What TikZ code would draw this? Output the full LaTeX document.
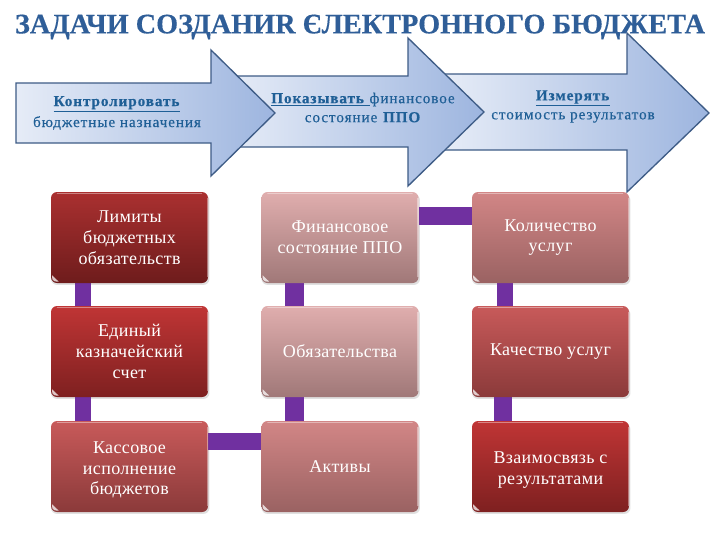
\documentclass[tikz,border=0pt]{standalone}
\usepackage{fontspec}
\usetikzlibrary{backgrounds}
\setmainfont{Liberation Serif}
\newfontfamily\arrowfont[LetterSpace=6,FakeBold=0.35]{Liberation Serif}
\newfontfamily\boxfont[LetterSpace=2]{Liberation Serif}
\definecolor{titleblue}{HTML}{2F5E98}
\definecolor{arrowtext}{HTML}{1F5F96}
\definecolor{arrowedge}{HTML}{3E5C86}
\definecolor{arrowlight}{HTML}{E6ECF7}
\definecolor{arrowdark}{HTML}{9DB5DF}
\definecolor{linkpurple}{HTML}{7030A0}
\definecolor{ta}{HTML}{AA3030}\definecolor{ba}{HTML}{6E1C1C}
\definecolor{tb}{HTML}{C03535}\definecolor{bb}{HTML}{7E2020}
\definecolor{tc}{HTML}{C85A5A}\definecolor{bc}{HTML}{8B3A3A}
\definecolor{td}{HTML}{E0AEAE}\definecolor{bd}{HTML}{A07878}
\definecolor{te}{HTML}{D28686}\definecolor{be}{HTML}{9A6262}
\tikzset{
  x=0.75pt,y=-0.75pt,
  arrowshape/.style={draw=arrowedge,line width=1pt,left color=arrowlight,right color=arrowdark,line join=miter},
  arrowlabel/.style={text=arrowtext,align=center,font=\arrowfont\fontsize{11.4pt}{#1}\selectfont},
  taskbox/.style 2 args={rounded corners=4.5pt,minimum width=117.75pt,minimum height=68.25pt,inner sep=0pt,text=white,align=center,font=\boxfont\fontsize{13.5pt}{15.6pt}\selectfont,top color=#1,bottom color=#2},
  link/.style={linkpurple,line width=#1},
  shadowbox/.style={rounded corners=4.5pt,fill=black!12},
  gloss/.style={white,opacity=0.4,line width=1pt,line cap=round},
}
\newcommand{\shadowfor}[1]{\fill[shadowbox] ([xshift=0.2pt,yshift=-1.2pt]#1.south west) rectangle ([xshift=0.9pt,yshift=-2pt]#1.north east);}
\newcommand{\glossfor}[1]{%
  \draw[gloss] ([xshift=5pt,yshift=-1.3pt]#1.north west) -- ([xshift=-5pt,yshift=-1.3pt]#1.north east);
  \draw[gloss] ([xshift=-0.7pt,yshift=-5pt]#1.north east) -- ([xshift=-0.7pt,yshift=5pt]#1.south east);
  \fill[white,opacity=0.75] ([xshift=1pt,yshift=6pt]#1.south west) -- ([xshift=6pt,yshift=1.2pt]#1.south west) -- ([xshift=3pt,yshift=1.4pt]#1.south west) -- ([xshift=1.2pt,yshift=3pt]#1.south west) -- cycle;}
\begin{document}
\begin{tikzpicture}
\useasboundingbox (0,0) rectangle (720,540);
% arrows, back to front
\draw[arrowshape] (445,74) -- (627,74) -- (627,33) -- (709,113) -- (627,192) -- (627,150) -- (445,150) -- cycle;
\draw[arrowshape] (230,76) -- (408,76) -- (408,38) -- (484,112) -- (408,186) -- (408,147) -- (230,147) -- cycle;
\draw[arrowshape] (16,83) -- (211,83) -- (211,50) -- (275,113) -- (211,176) -- (211,143) -- (16,143) -- cycle;
% title
\node[inner sep=0pt,text=titleblue,font=\bfseries\addfontfeatures{FakeBold=0.4}\fontsize{21.2pt}{24pt}\selectfont] (title) at (360,27) {ЗАДАЧИ СОЗДАНИR ЄЛЕКТРОННОГО БЮДЖЕТА};
% arrow labels
\node[arrowlabel=15.75pt] (lab1) at (117,113) {\underline{\textbf{Контролировать}}\\бюджетные назначения};
\node[arrowlabel=14.25pt] (lab2) at (363,107.5) {\underline{\textbf{Показывать }}финансовое\\состояние \textbf{ППО}};
\node[arrowlabel=14.25pt] (lab3) at (573,106.5) {\underline{\textbf{Измерять}}\\стоимость результатов};
% boxes
\node[taskbox={ta}{ba}] (a1) at (129.5,237.5) {Лимиты\\бюджетных\\обязательств};
\node[taskbox={tb}{bb}] (a2) at (129.5,351.5) {Единый\\казначейский\\счет};
\node[taskbox={tc}{bc}] (a3) at (129.5,466.5) {\rule{0pt}{14pt}Кассовое\\исполнение\\бюджетов};
\node[taskbox={td}{bd}] (b1) at (340,237.5) {Финансовое\\состояние ППО};
\node[taskbox={td}{bd}] (b2) at (340,351.5) {Обязательства};
\node[taskbox={te}{be}] (b3) at (340,466.5) {Активы};
\node[taskbox={te}{be}] (d1) at (550.5,237.5) {Количество\\услуг};
\node[taskbox={tc}{bc}] (d2) at (550.5,351.5) {Качество услуг};
\node[taskbox={tb}{bb}] (d3) at (550.5,466.5) {\rule{0pt}{14pt}Взаимосвязь с\\результатами};
\foreach \n in {a1,a2,a3,b1,b2,b3,d1,d2,d3} {\glossfor{\n}}
% shadows and links lie behind the boxes
\begin{scope}[on background layer]
\fill[white] (0,0) rectangle (720,540);
\foreach \n in {a1,a2,a3,b1,b2,b3,d1,d2,d3} {\shadowfor{\n}}
\draw[link=12pt] ([xshift=-34.9pt]a1.south) -- ([xshift=-34.9pt]a2.north);
\draw[link=12pt] ([xshift=-34.9pt]a2.south) -- ([xshift=-34.9pt]a3.north);
\draw[link=14.25pt] ([xshift=-34.1pt]b1.south) -- ([xshift=-34.1pt]b2.north);
\draw[link=14.25pt] ([xshift=-34.1pt]b2.south) -- ([xshift=-34.1pt]b3.north);
\draw[link=12pt] ([xshift=-34.1pt]d1.south) -- ([xshift=-34.1pt]d2.north);
\draw[link=13.5pt] ([xshift=-35.6pt]d2.south) -- ([xshift=-35.6pt]d3.north);
\draw[link=12.75pt] ([yshift=18.75pt]a3.east) -- ([yshift=18.75pt]b3.west);
\draw[link=13.5pt] ([yshift=16.1pt]b1.east) -- ([yshift=16.1pt]d1.west);
\end{scope}
\end{tikzpicture}
\end{document}
